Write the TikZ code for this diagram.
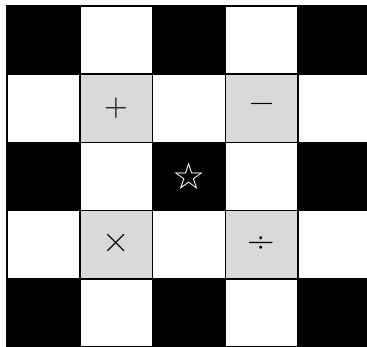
\documentclass[tikz,border=0pt]{standalone}
\usepackage{fontspec}
\newfontfamily\symfont{DejaVu Sans}
\usetikzlibrary{positioning}
\definecolor{grisC}{HTML}{D9D9D9}
\tikzset{
  cell/.style={rectangle, draw=black, line width=1.5pt, fill=#1, inner sep=0pt,
               minimum width=72.75pt, minimum height=68.25pt},
  op/.style={font=\fontsize{#1}{#1}\selectfont, inner sep=0pt},
  etoile/.style={font=\symfont\fontsize{37}{37}\selectfont, text=white, inner sep=0pt},
}
\begin{document}
\begin{tikzpicture}[x=1pt, y=-1pt]
    \useasboundingbox (0,0) rectangle (367,347);
    \foreach \r in {0,...,4}{
      \foreach \c in {0,...,4}{
        \pgfmathtruncatemacro\k{mod(\r,2)+mod(\c,2)}
        \edef\fillc{\ifcase\k black\or white\or grisC\fi}
        \node[cell=\fillc] (c-\r-\c) at ({7+72.75*\c+36.375},{6+68.25*\r+34.125}) {};
      }
    }
    \node[op=33] (plus) at (c-1-1) {+};
    \node[op=34] (moins) at (c-1-3) {−};
    \node[op=38] (fois) at ([yshift=2]c-3-1) {×};
    \node[op=38] (div) at (c-3-3) {÷};
    \node[etoile] (star) at (c-2-2) {☆};
  \end{tikzpicture}
\end{document}
